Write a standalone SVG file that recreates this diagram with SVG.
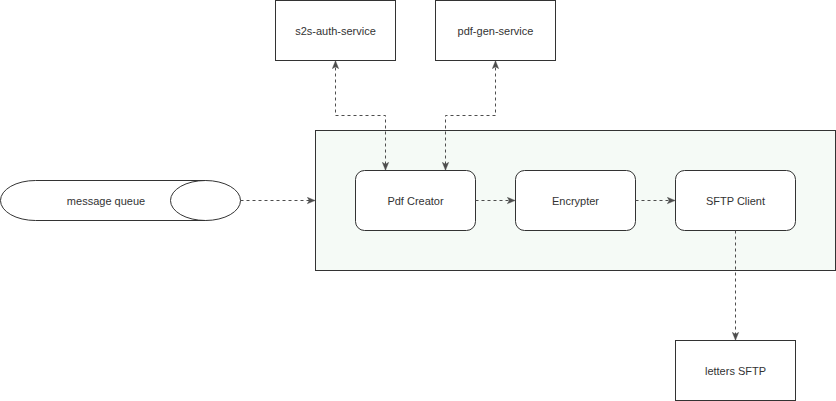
<svg xmlns="http://www.w3.org/2000/svg" width="836" height="401" viewBox="0 0 836 401">
<style>
.box{fill:#ffffff;stroke:#333333;stroke-width:1}
.cont{fill:#f5faf6;stroke:#333333;stroke-width:1}
.lbl{font-family:"Liberation Sans",Arial,sans-serif;font-size:11px;fill:#333333;text-anchor:middle;dominant-baseline:central}
.conn{fill:none;stroke:#4d4d4d;stroke-width:1;stroke-dasharray:3 3}
</style>
<defs>
<marker id="ah" viewBox="0 0 10 10" refX="9" refY="5" markerWidth="8" markerHeight="8" markerUnits="userSpaceOnUse" orient="auto-start-reverse">
<path d="M0,1 L10,5 L0,9 L2.5,5 Z" fill="#4d4d4d" stroke="#4d4d4d" stroke-width="0.5"/>
</marker>
</defs>
<g id="container"><rect class="cont" x="315.5" y="130.5" width="520" height="140"/></g>
<g id="s2s-auth-service"><rect class="box" x="275.5" y="0.5" width="120" height="60"/><text class="lbl" x="335.5" y="31">s2s-auth-service</text></g>
<g id="pdf-gen-service"><rect class="box" x="435.5" y="0.5" width="120" height="60"/><text class="lbl" x="495.5" y="31">pdf-gen-service</text></g>
<g id="message-queue">
<path class="box" d="M35.5,180.5 L205.5,180.5 A35,20 0 0 1 205.5,220.5 L35.5,220.5 A35,20 0 0 1 35.5,180.5 Z"/>
<path class="box" style="fill:none" d="M205.5,180.5 A35,20 0 0 0 205.5,220.5"/>
<text class="lbl" x="106" y="201">message queue</text>
</g>
<g id="pdf-creator"><rect class="box" x="355.5" y="170.5" width="120" height="60" rx="9"/><text class="lbl" x="415.5" y="201">Pdf Creator</text></g>
<g id="encrypter"><rect class="box" x="515.5" y="170.5" width="120" height="60" rx="9"/><text class="lbl" x="575.5" y="201">Encrypter</text></g>
<g id="sftp-client"><rect class="box" x="675.5" y="170.5" width="120" height="60" rx="9"/><text class="lbl" x="735.5" y="201">SFTP Client</text></g>
<g id="letters-sftp"><rect class="box" x="675.5" y="340.5" width="120" height="60"/><text class="lbl" x="735.5" y="371">letters SFTP</text></g>
<g id="connectors">
<path class="conn" d="M240.5,200.5 L314.5,200.5" marker-end="url(#ah)"/>
<path class="conn" d="M335.5,61.5 L335.5,115.5 L385.5,115.5 L385.5,169.5" marker-start="url(#ah)" marker-end="url(#ah)"/>
<path class="conn" d="M495.5,61.5 L495.5,115.5 L445.5,115.5 L445.5,169.5" marker-start="url(#ah)" marker-end="url(#ah)"/>
<path class="conn" d="M475.5,200.5 L514.5,200.5" marker-end="url(#ah)"/>
<path class="conn" d="M635.5,200.5 L674.5,200.5" marker-end="url(#ah)"/>
<path class="conn" d="M735.5,230.5 L735.5,339.5" marker-end="url(#ah)"/>
</g>
</svg>
